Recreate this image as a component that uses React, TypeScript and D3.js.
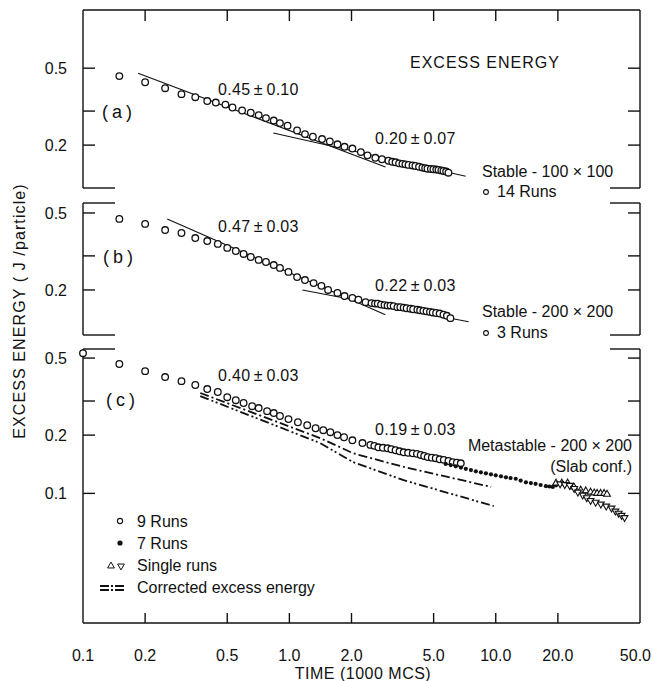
import React from 'react';
import * as d3 from 'd3';

// time axis (1000 MCS)
const timeTicks = [0.2, 0.5, 1, 2, 5, 10, 20];
const timeLabelValues = [0.1, 0.2, 0.5, 1, 2, 5, 10, 20, 50];
const timeLabels = ['0.1', '0.2', '0.5', '1.0', '2.0', '5.0', '10.0', '20.0', '50.0'];
const energyTicks = [0.5, 0.3, 0.2, 0.1];
const energyLabels: Record<string, string> = { '0.5': '0.5', '0.2': '0.2', '0.1': '0.1' };

// (a) stable 100x100, 14 runs
const aTime = [0.15, 0.2, 0.25, 0.3, 0.35, 0.4, 0.44, 0.49, 0.53, 0.59, 0.65, 0.71, 0.77, 0.84, 0.9, 0.98, 1.09, 1.19, 1.3, 1.44, 1.57, 1.71, 1.85, 2.02, 2.22, 2.39, 2.61, 2.81, 3.02, 3.15, 3.27, 3.4, 3.53, 3.65, 3.78, 3.95, 4.08, 4.25, 4.41, 4.55, 4.67, 4.85, 4.99, 5.15, 5.28, 5.45, 5.58, 5.75, 5.9];
const aEnergy = [0.455, 0.423, 0.394, 0.367, 0.354, 0.338, 0.332, 0.324, 0.313, 0.302, 0.294, 0.286, 0.276, 0.268, 0.26, 0.252, 0.238, 0.228, 0.221, 0.215, 0.209, 0.202, 0.196, 0.192, 0.184, 0.177, 0.172, 0.169, 0.166, 0.164, 0.163, 0.161, 0.16, 0.159, 0.158, 0.157, 0.156, 0.1545, 0.153, 0.152, 0.151, 0.1505, 0.15, 0.1495, 0.149, 0.148, 0.147, 0.146, 0.144];
const aFit1: [number, number][] = [[0.185, 0.471], [2.92, 0.154]];
const aFit2: [number, number][] = [[0.836, 0.231], [7.15, 0.138]];

// (b) stable 200x200, 3 runs
const bTime = [0.15, 0.2, 0.25, 0.3, 0.35, 0.4, 0.45, 0.5, 0.55, 0.6, 0.65, 0.71, 0.77, 0.84, 0.9, 0.99, 1.09, 1.19, 1.31, 1.43, 1.54, 1.71, 1.85, 2.02, 2.16, 2.34, 2.5, 2.6, 2.68, 2.78, 2.89, 2.99, 3.09, 3.2, 3.34, 3.45, 3.58, 3.7, 3.86, 3.98, 4.17, 4.3, 4.46, 4.62, 4.8, 4.95, 5.14, 5.35, 5.58, 5.8, 6.03];
const bEnergy = [0.466, 0.439, 0.408, 0.394, 0.371, 0.358, 0.346, 0.33, 0.318, 0.307, 0.296, 0.286, 0.279, 0.269, 0.26, 0.248, 0.233, 0.225, 0.217, 0.21, 0.2, 0.193, 0.186, 0.182, 0.178, 0.173, 0.171, 0.17, 0.17, 0.168, 0.167, 0.166, 0.166, 0.165, 0.163, 0.163, 0.162, 0.161, 0.16, 0.159, 0.158, 0.157, 0.156, 0.155, 0.154, 0.153, 0.152, 0.151, 0.149, 0.147, 0.143];
const bFit1: [number, number][] = [[0.256, 0.465], [2.92, 0.149]];
const bFit2: [number, number][] = [[1.156, 0.2], [7.39, 0.137]];

// (c) metastable 200x200, slab configuration
const c9Time = [0.1, 0.15, 0.2, 0.25, 0.3, 0.35, 0.4, 0.45, 0.5, 0.55, 0.6, 0.66, 0.71, 0.78, 0.84, 0.9, 0.99, 1.1, 1.22, 1.34, 1.46, 1.58, 1.71, 1.84, 2.02, 2.26, 2.47, 2.58, 2.7, 2.84, 2.99, 3.12, 3.27, 3.42, 3.58, 3.76, 3.96, 4.15, 4.33, 4.5, 4.68, 4.9, 5.12, 5.35, 5.6, 5.9, 6.19, 6.48, 6.77];
const c9Energy = [0.53, 0.466, 0.428, 0.399, 0.38, 0.363, 0.346, 0.334, 0.314, 0.303, 0.293, 0.282, 0.276, 0.266, 0.26, 0.251, 0.242, 0.233, 0.225, 0.217, 0.212, 0.207, 0.2, 0.195, 0.188, 0.182, 0.178, 0.176, 0.173, 0.172, 0.171, 0.169, 0.167, 0.165, 0.163, 0.162, 0.161, 0.16, 0.158, 0.156, 0.154, 0.153, 0.152, 0.15, 0.149, 0.147, 0.145, 0.144, 0.143];
const c7Time = [5.72, 6.05, 6.4, 6.78, 7.16, 7.58, 8.01, 8.47, 8.96, 9.48, 10.0, 10.6, 11.2, 11.8, 12.5, 13.2, 14.0, 14.8, 15.6, 16.5, 17.5, 18.2, 18.9, 19.6, 20.5];
const c7Energy = [0.142, 0.14, 0.138, 0.136, 0.134, 0.132, 0.13, 0.1285, 0.127, 0.1255, 0.124, 0.1225, 0.121, 0.12, 0.119, 0.1165, 0.114, 0.113, 0.112, 0.1105, 0.109, 0.1085, 0.108, 0.11, 0.112];
const upTime = [19.6, 20.9, 22.3, 23.9, 25.8, 27.3, 28.8, 30.0, 31.0, 32.2, 33.5, 34.6];
const upEnergy = [0.113, 0.113, 0.113, 0.108, 0.104, 0.103, 0.1015, 0.1005, 0.1, 0.1, 0.1, 0.099];
const downTime = [20.5, 21.6, 22.8, 24.0, 25.0, 26.4, 27.6, 28.8, 30.5, 32.3, 34.3, 36.4, 38.0, 39.4, 40.7, 42.1];
const downEnergy = [0.112, 0.111, 0.11, 0.106, 0.1015, 0.098, 0.095, 0.092, 0.09, 0.088, 0.086, 0.084, 0.081, 0.079, 0.077, 0.075];
const corrDashDot: [number, number][] = [[0.37, 0.33], [1.41, 0.193], [2.04, 0.161], [3.58, 0.137], [9.5, 0.108]];
const corrDashDotDot: [number, number][] = [[0.37, 0.318], [1.41, 0.182], [2.04, 0.145], [3.58, 0.117], [9.78, 0.086]];

const W = 652;
const H = 681;
const X0 = 83;
const X1 = 640;
const x = d3.scaleLog().domain([0.1, 50]).range([X0, X1]);
const yA = d3.scaleLog().domain([0.12, 1.0]).range([188, 10]);
const yB = d3.scaleLog().domain([0.117, 0.563]).range([335, 203]);
const yC = d3.scaleLog().domain([0.0214, 0.557]).range([623, 349]);

const FONT = '"Liberation Sans", Arial, sans-serif';
const PM = '\u2009±\u2009';
const zip = (t: number[], e: number[]) => t.map((v, i) => [v, e[i]] as [number, number]);

function Frame({ y, fullTop, fullBottom, ticks }: { y: d3.ScaleLogarithmic<number, number>; fullTop: boolean; fullBottom: boolean; ticks: number[] }) {
  const [bottom, top] = y.range();
  const stub = 32;
  const edge = (yy: number, full: boolean) =>
    full ? (
      <line x1={X0} x2={X1} y1={yy} y2={yy} />
    ) : (
      <g>
        <line x1={X0} x2={X0 + stub} y1={yy} y2={yy} />
        <line x1={X1 - 30} x2={X1} y1={yy} y2={yy} />
      </g>
    );
  return (
    <g stroke="#111" strokeWidth={1.4} fill="none">
      <line x1={X0} x2={X0} y1={top} y2={bottom} />
      <line x1={X1} x2={X1} y1={top} y2={bottom} />
      {edge(top, fullTop)}
      {edge(bottom, fullBottom)}
      {ticks.map(t => (
        <g key={t}>
          <line x1={X0} x2={X0 + 12} y1={y(t)} y2={y(t)} />
          <line x1={X1 - 12} x2={X1} y1={y(t)} y2={y(t)} />
        </g>
      ))}
      <g stroke="none" fill="#111" fontSize={16} textAnchor="end" fontFamily={FONT}>
        {ticks.filter(t => energyLabels[String(t)]).map(t => (
          <text key={t} x={67} y={y(t) + 6}>{energyLabels[String(t)]}</text>
        ))}
      </g>
    </g>
  );
}

function Circles({ data, y, r = 3.3 }: { data: [number, number][]; y: d3.ScaleLogarithmic<number, number>; r?: number }) {
  return (
    <g fill="#fff" stroke="#111" strokeWidth={1.3}>
      {data.map((d, i) => (
        <circle key={i} cx={x(d[0])} cy={y(d[1])} r={r} />
      ))}
    </g>
  );
}

function FitLine({ data, y, dash, width = 1.1 }: { data: [number, number][]; y: d3.ScaleLogarithmic<number, number>; dash?: string; width?: number }) {
  const line = d3.line<[number, number]>().x(d => x(d[0])).y(d => y(d[1]));
  return <path d={line(data) || ''} fill="none" stroke="#111" strokeWidth={width} strokeDasharray={dash} />;
}

const tri = d3.symbol().type(d3.symbolTriangle).size(20)() || '';
const DASH1 = '9,3,2,3';
const DASH2 = '9,3,2,2.5,2,3';

export default function App() {
  return (
    <div style={{ position: 'absolute', left: 0, top: 0 }}>
      <svg width={W} height={H} style={{ display: 'block', background: '#fff' }} fontFamily={FONT}>
        {/* panel frames */}
        <Frame y={yA} fullTop fullBottom={false} ticks={energyTicks.slice(0, 3)} />
        <Frame y={yB} fullTop={false} fullBottom={false} ticks={energyTicks.slice(0, 3)} />
        <Frame y={yC} fullTop={false} fullBottom ticks={energyTicks} />

        {/* time ticks, top of (a) and bottom of (c) */}
        <g stroke="#111" strokeWidth={1.4}>
          {timeTicks.map(t => (
            <g key={t}>
              <line x1={x(t)} x2={x(t)} y1={10} y2={21} />
              <line x1={x(t)} x2={x(t)} y1={623} y2={613} />
            </g>
          ))}
        </g>
        <g fontSize={16} textAnchor="middle" fill="#111">
          {timeLabelValues.map((t, i) => (
            <text key={t} x={i === timeLabelValues.length - 1 ? 651 : x(t)} y={661} textAnchor={i === timeLabelValues.length - 1 ? 'end' : 'middle'}>
              {timeLabels[i]}
            </text>
          ))}
          <text x={363} y={679} letterSpacing={0.5}>TIME (1000 MCS)</text>
        </g>
        <text transform="translate(25,311) rotate(-90)" textAnchor="middle" fontSize={16} letterSpacing={1.1} fill="#111">
          EXCESS ENERGY ( J /particle)
        </text>

        {/* (a) */}
        <FitLine data={aFit1} y={yA} />
        <FitLine data={aFit2} y={yA} />
        <Circles data={zip(aTime, aEnergy)} y={yA} />
        <g fill="#111" fontSize={16}>
          <text x={410} y={68} letterSpacing={1}>EXCESS ENERGY</text>
          <text x={218} y={95} letterSpacing={0.3}>{`0.45${PM}0.10`}</text>
          <text x={102} y={118} fontSize={18} letterSpacing={4}>(a)</text>
          <text x={375} y={144} letterSpacing={0.3}>{`0.20${PM}0.07`}</text>
          <text x={482} y={177}>Stable - 100 × 100</text>
          <text x={497} y={197}>14 Runs</text>
        </g>
        <circle cx={486} cy={192} r={2.4} fill="#fff" stroke="#111" strokeWidth={1.1} />

        {/* (b) */}
        <FitLine data={bFit1} y={yB} />
        <FitLine data={bFit2} y={yB} />
        <Circles data={zip(bTime, bEnergy)} y={yB} />
        <g fill="#111" fontSize={16}>
          <text x={218} y={232} letterSpacing={0.3}>{`0.47${PM}0.03`}</text>
          <text x={103} y={263} fontSize={18} letterSpacing={4}>(b)</text>
          <text x={375} y={291} letterSpacing={0.3}>{`0.22${PM}0.03`}</text>
          <text x={482} y={317}>Stable - 200 × 200</text>
          <text x={497} y={338}>3  Runs</text>
        </g>
        <circle cx={486} cy={333} r={2.4} fill="#fff" stroke="#111" strokeWidth={1.1} />

        {/* (c) */}
        <FitLine data={corrDashDot} y={yC} dash={DASH1} width={1.8} />
        <FitLine data={corrDashDotDot} y={yC} dash={DASH2} width={1.8} />
        <Circles data={zip(c9Time, c9Energy)} y={yC} />
        <g fill="#111">
          {zip(c7Time, c7Energy).map((d, i) => (
            <circle key={i} cx={x(d[0])} cy={yC(d[1])} r={2.1} />
          ))}
        </g>
        <g fill="#fff" stroke="#111" strokeWidth={1.1}>
          {zip(upTime, upEnergy).map((d, i) => (
            <path key={i} d={tri} transform={`translate(${x(d[0])},${yC(d[1])})`} />
          ))}
          {zip(downTime, downEnergy).map((d, i) => (
            <path key={i} d={tri} transform={`translate(${x(d[0])},${yC(d[1])}) rotate(180)`} />
          ))}
        </g>
        <g fill="#111" fontSize={16}>
          <text x={218} y={381} letterSpacing={0.3}>{`0.40${PM}0.03`}</text>
          <text x={106} y={406} fontSize={18} letterSpacing={4}>(c)</text>
          <text x={375} y={435} letterSpacing={0.3}>{`0.19${PM}0.03`}</text>
          <text x={632} y={451} textAnchor="end">Metastable - 200 × 200</text>
          <text x={632} y={472} textAnchor="end">(Slab conf.)</text>
        </g>

        {/* legend */}
        <g fill="#111" fontSize={16}>
          <text x={137} y={527}>9  Runs</text>
          <text x={137} y={549}>7  Runs</text>
          <text x={137} y={571}>Single  runs</text>
          <text x={137} y={593}>Corrected excess energy</text>
        </g>
        <circle cx={120} cy={521} r={2.6} fill="#fff" stroke="#111" strokeWidth={1.1} />
        <circle cx={120} cy={543} r={2.6} fill="#111" />
        <path d={tri} transform="translate(111,566)" fill="#fff" stroke="#111" strokeWidth={1} />
        <path d={tri} transform="translate(121,566) rotate(180)" fill="#fff" stroke="#111" strokeWidth={1} />
        <line x1={100} x2={131} y1={586} y2={586} stroke="#111" strokeWidth={1.8} strokeDasharray="9,2,2,2,9" />
        <line x1={100} x2={131} y1={590} y2={590} stroke="#111" strokeWidth={1.8} strokeDasharray="9,2,2,2,9" />
      </svg>
    </div>
  );
}
